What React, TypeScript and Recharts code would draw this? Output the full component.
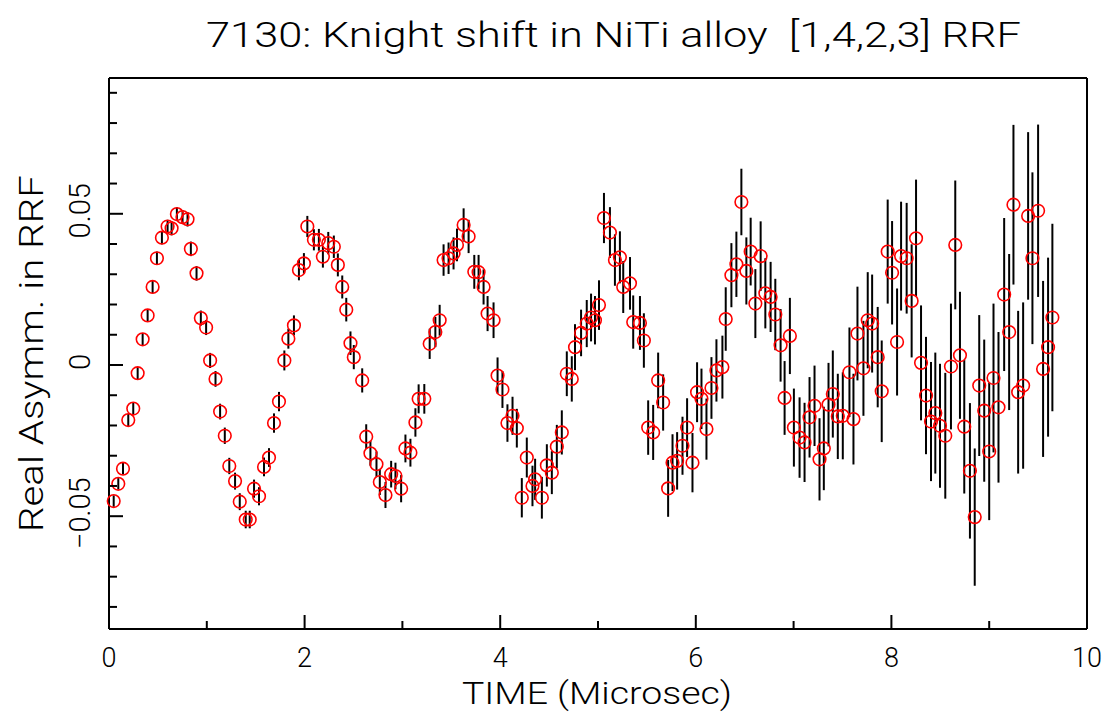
import React from 'react';
import { ScatterChart, Scatter, XAxis, YAxis, ErrorBar } from 'recharts';

const W = 1108;
const H = 713;
const FONT = "Roboto, 'DejaVu Sans', sans-serif";

const TITLE = '7130: Knight shift in NiTi alloy  [1,4,2,3] RRF';
const X_LABEL = 'TIME (Microsec)';
const Y_LABEL = 'Real Asymm. in RRF';

const X_TICKS = [0, 1, 2, 3, 4, 5, 6, 7, 8, 9, 10];
const X_MAJOR = [0, 2, 4, 6, 8, 10];
const Y_TICKS = [-0.08, -0.07, -0.06, -0.05, -0.04, -0.03, -0.02, -0.01, 0, 0.01, 0.02, 0.03, 0.04, 0.05, 0.06, 0.07, 0.08, 0.09];
const Y_MAJOR = [-0.05, 0, 0.05];
const Y_MAJOR_TEXT = ['\u22120.05', '0', '0.05'];

const TIMES = [
  0.048, 0.095, 0.143, 0.197, 0.248, 0.293, 0.344, 0.395, 0.446, 0.490,
  0.541, 0.599, 0.640, 0.694, 0.752, 0.803, 0.837, 0.895, 0.939, 0.993,
  1.034, 1.089, 1.136, 1.184, 1.230, 1.289, 1.337, 1.398, 1.439, 1.483,
  1.534, 1.585, 1.636, 1.687, 1.738, 1.793, 1.834, 1.891, 1.942, 1.993,
  2.028, 2.095, 2.146, 2.187, 2.242, 2.299, 2.340, 2.385, 2.426, 2.469,
  2.503, 2.589, 2.630, 2.673, 2.735, 2.769, 2.827, 2.885, 2.929, 2.987,
  3.031, 3.082, 3.133, 3.166, 3.224, 3.279, 3.337, 3.381, 3.421, 3.472,
  3.523, 3.558, 3.626, 3.677, 3.735, 3.779, 3.830, 3.871, 3.932, 3.973,
  4.023, 4.074, 4.126, 4.170, 4.221, 4.272, 4.330, 4.357, 4.426, 4.477,
  4.528, 4.579, 4.630, 4.681, 4.732, 4.765, 4.827, 4.885, 4.929, 4.969,
  5.010, 5.061, 5.122, 5.173, 5.224, 5.258, 5.327, 5.360, 5.429, 5.469,
  5.513, 5.564, 5.615, 5.666, 5.717, 5.762, 5.809, 5.864, 5.911, 5.966,
  6.013, 6.058, 6.109, 6.160, 6.211, 6.272, 6.306, 6.364, 6.415, 6.466,
  6.517, 6.561, 6.609, 6.663, 6.711, 6.765, 6.813, 6.867, 6.908, 6.962,
  7.003, 7.061, 7.112, 7.163, 7.214, 7.265, 7.309, 7.357, 7.401, 7.452,
  7.503, 7.571, 7.612, 7.653, 7.714, 7.758, 7.803, 7.860, 7.901, 7.962,
  8.007, 8.058, 8.099, 8.156, 8.207, 8.252, 8.303, 8.354, 8.405, 8.449,
  8.497, 8.551, 8.609, 8.653, 8.701, 8.745, 8.803, 8.852, 8.898, 8.949,
  9.000, 9.044, 9.095, 9.153, 9.204, 9.248, 9.296, 9.347, 9.398, 9.442,
  9.500, 9.551, 9.602, 9.646,
];

const ASYM = [
  -0.0450, -0.0393, -0.0343, -0.0182, -0.0144, -0.0027, 0.0085, 0.0164, 0.0258, 0.0353,
  0.0421, 0.0458, 0.0452, 0.0499, 0.0489, 0.0482, 0.0384, 0.0303, 0.0155, 0.0124,
  0.0015, -0.0046, -0.0154, -0.0234, -0.0334, -0.0384, -0.0452, -0.0511, -0.0511, -0.0409,
  -0.0434, -0.0337, -0.0306, -0.0192, -0.0121, 0.0015, 0.0087, 0.0131, 0.0314, 0.0336,
  0.0458, 0.0414, 0.0414, 0.0358, 0.0403, 0.0391, 0.0331, 0.0258, 0.0183, 0.0072,
  0.0026, -0.0051, -0.0237, -0.0292, -0.0328, -0.0387, -0.0430, -0.0361, -0.0367, -0.0409,
  -0.0276, -0.0290, -0.0190, -0.0112, -0.0112, 0.0070, 0.0109, 0.0148, 0.0347, 0.0353,
  0.0369, 0.0397, 0.0463, 0.0425, 0.0308, 0.0307, 0.0258, 0.0170, 0.0148, -0.0035,
  -0.0081, -0.0192, -0.0168, -0.0209, -0.0439, -0.0306, -0.0400, -0.0378, -0.0439, -0.0332,
  -0.0356, -0.0270, -0.0223, -0.0029, -0.0046, 0.0059, 0.0106, 0.0137, 0.0157, 0.0148,
  0.0198, 0.0486, 0.0438, 0.0347, 0.0356, 0.0258, 0.0270, 0.0142, 0.0139, 0.0081,
  -0.0207, -0.0223, -0.0051, -0.0124, -0.0408, -0.0323, -0.0317, -0.0267, -0.0207, -0.0323,
  -0.0090, -0.0112, -0.0212, -0.0076, -0.0018, -0.0007, 0.0152, 0.0297, 0.0333, 0.0539,
  0.0311, 0.0375, 0.0203, 0.0360, 0.0237, 0.0225, 0.0167, 0.0065, -0.0109, 0.0096,
  -0.0207, -0.0240, -0.0256, -0.0173, -0.0135, -0.0312, -0.0276, -0.0131, -0.0096, -0.0170,
  -0.0168, -0.0024, -0.0179, 0.0104, -0.0011, 0.0148, 0.0137, 0.0026, -0.0087, 0.0375,
  0.0305, 0.0076, 0.0360, 0.0353, 0.0212, 0.0419, 0.0007, -0.0101, -0.0187, -0.0159,
  -0.0201, -0.0234, -0.0005, 0.0397, 0.0032, -0.0204, -0.0350, -0.0503, -0.0068, -0.0151,
  -0.0286, -0.0043, -0.0140, 0.0233, 0.0109, 0.0530, -0.0090, -0.0068, 0.0493, 0.0353,
  0.0510, -0.0013, 0.0059, 0.0157,
];

const ERRS = [
  0.0019, 0.0019, 0.0019, 0.0020, 0.0020, 0.0020, 0.0021, 0.0021, 0.0021, 0.0022,
  0.0022, 0.0022, 0.0023, 0.0023, 0.0023, 0.0024, 0.0024, 0.0024, 0.0025, 0.0025,
  0.0025, 0.0026, 0.0026, 0.0027, 0.0027, 0.0028, 0.0028, 0.0029, 0.0029, 0.0030,
  0.0030, 0.0031, 0.0031, 0.0032, 0.0032, 0.0033, 0.0033, 0.0033, 0.0034, 0.0034,
  0.0035, 0.0035, 0.0036, 0.0036, 0.0037, 0.0037, 0.0038, 0.0038, 0.0039, 0.0039,
  0.0040, 0.0040, 0.0041, 0.0041, 0.0042, 0.0043, 0.0043, 0.0044, 0.0044, 0.0045,
  0.0046, 0.0046, 0.0047, 0.0048, 0.0049, 0.0050, 0.0050, 0.0051, 0.0052, 0.0052,
  0.0053, 0.0054, 0.0055, 0.0055, 0.0056, 0.0057, 0.0058, 0.0058, 0.0059, 0.0060,
  0.0061, 0.0062, 0.0063, 0.0064, 0.0065, 0.0066, 0.0067, 0.0068, 0.0069, 0.0070,
  0.0071, 0.0072, 0.0073, 0.0074, 0.0075, 0.0076, 0.0077, 0.0078, 0.0079, 0.0080,
  0.0082, 0.0083, 0.0084, 0.0085, 0.0086, 0.0086, 0.0087, 0.0088, 0.0089, 0.0090,
  0.0090, 0.0091, 0.0092, 0.0093, 0.0094, 0.0094, 0.0095, 0.0096, 0.0097, 0.0098,
  0.0099, 0.0100, 0.0101, 0.0102, 0.0103, 0.0104, 0.0105, 0.0106, 0.0108, 0.0110,
  0.0111, 0.0112, 0.0114, 0.0115, 0.0116, 0.0116, 0.0118, 0.0120, 0.0122, 0.0126,
  0.0129, 0.0133, 0.0131, 0.0133, 0.0133, 0.0136, 0.0138, 0.0138, 0.0144, 0.0141,
  0.0144, 0.0148, 0.0150, 0.0155, 0.0157, 0.0159, 0.0162, 0.0166, 0.0168, 0.0172,
  0.0171, 0.0177, 0.0180, 0.0183, 0.0187, 0.0194, 0.0190, 0.0194, 0.0197, 0.0200,
  0.0205, 0.0208, 0.0208, 0.0213, 0.0210, 0.0221, 0.0224, 0.0227, 0.0233, 0.0235,
  0.0227, 0.0246, 0.0249, 0.0253, 0.0258, 0.0264, 0.0269, 0.0275, 0.0277, 0.0284,
  0.0285, 0.0291, 0.0296, 0.0310,
];

const data = TIMES.map((t, i) => ({ t, a: ASYM[i], e: ERRS[i] }));

const majorIndex = (v: number, list: number[]) => list.findIndex((m) => Math.abs(m - v) < 1e-9);

const MAJOR_LEN = 14;
const MINOR_LEN = 8;
const TICK_W = 2;

const BottomTick = (p: any) => {
  const { x, y, payload } = p;
  const mi = majorIndex(payload.value, X_MAJOR);
  const major = mi >= 0;
  return (
    <g>
      <line x1={x} x2={x} y1={y} y2={y - (major ? MAJOR_LEN : MINOR_LEN)} stroke="#000" strokeWidth={TICK_W} />
      {major && (
        <text x={x} y={y + 38} textAnchor="middle" fontSize={27} fontFamily={FONT} fontWeight={300} fill="#000">
          {String(payload.value)}
        </text>
      )}
    </g>
  );
};

const TopTick = (p: any) => {
  const { x, y, payload } = p;
  const major = majorIndex(payload.value, X_MAJOR) >= 0;
  return <line x1={x} x2={x} y1={y} y2={y + (major ? MAJOR_LEN : MINOR_LEN)} stroke="#000" strokeWidth={TICK_W} />;
};

const LeftTick = (p: any) => {
  const { x, y, payload } = p;
  const mi = majorIndex(payload.value, Y_MAJOR);
  const major = mi >= 0;
  return (
    <g>
      <line x1={x} x2={x + (major ? MAJOR_LEN : MINOR_LEN)} y1={y} y2={y} stroke="#000" strokeWidth={TICK_W} />
      {major && (
        <text
          transform={`translate(${x - 19},${y - 3}) rotate(-90)`}
          x={0}
          y={0}
          textAnchor="middle"
          fontSize={29}
          fontFamily={FONT}
          fontWeight={300}
          fill="#000"
        >
          {Y_MAJOR_TEXT[mi]}
        </text>
      )}
    </g>
  );
};

const RightTick = (p: any) => {
  const { x, y, payload } = p;
  const major = majorIndex(payload.value, Y_MAJOR) >= 0;
  return <line x1={x} x2={x - (major ? MAJOR_LEN : MINOR_LEN)} y1={y} y2={y} stroke="#000" strokeWidth={TICK_W} />;
};

const Marker = (p: any) => {
  const { cx, cy } = p;
  if (cx == null || cy == null) return null;
  return <circle cx={cx} cy={cy} r={6.3} fill="none" stroke="#ff0000" strokeWidth={1.6} />;
};

const X_DOMAIN: [number, number] = [0, 10];
const Y_DOMAIN: [number, number] = [-0.0873, 0.0949];
const AXIS_LINE = { stroke: '#000', strokeWidth: 2 };

export default function App() {
  return (
    <div style={{ position: 'absolute', left: 0, top: 0, width: W, height: H, background: '#fff' }}>
      <ScatterChart width={W} height={H} margin={{ top: 77, right: 20, bottom: 83, left: 108 }}>
        <XAxis
          xAxisId="b"
          dataKey="t"
          type="number"
          orientation="bottom"
          domain={X_DOMAIN}
          ticks={X_TICKS}
          interval={0}
          height={1}
          tickSize={0}
          tickMargin={0}
          tickLine={false}
          axisLine={AXIS_LINE}
          tick={BottomTick}
        />
        <XAxis
          xAxisId="top"
          dataKey="t"
          type="number"
          orientation="top"
          domain={X_DOMAIN}
          ticks={X_TICKS}
          interval={0}
          height={1}
          tickSize={0}
          tickMargin={0}
          tickLine={false}
          axisLine={AXIS_LINE}
          tick={TopTick}
        />
        <YAxis
          yAxisId="l"
          dataKey="a"
          type="number"
          orientation="left"
          domain={Y_DOMAIN}
          ticks={Y_TICKS}
          interval={0}
          width={1}
          tickSize={0}
          tickMargin={0}
          tickLine={false}
          axisLine={AXIS_LINE}
          tick={LeftTick}
        />
        <YAxis
          yAxisId="r"
          dataKey="a"
          type="number"
          orientation="right"
          domain={Y_DOMAIN}
          ticks={Y_TICKS}
          interval={0}
          width={1}
          tickSize={0}
          tickMargin={0}
          tickLine={false}
          axisLine={AXIS_LINE}
          tick={RightTick}
        />
        <Scatter data={data} xAxisId="b" yAxisId="l" dataKey="a" shape={Marker} isAnimationActive={false}>
          <ErrorBar dataKey="e" direction="y" width={0} stroke="#000" strokeWidth={2} isAnimationActive={false} />
        </Scatter>
      </ScatterChart>
      <svg
        width={W}
        height={H}
        style={{ position: 'absolute', left: 0, top: 0, pointerEvents: 'none' }}
      >
        <text
          x={206}
          y={47}
          textLength={815}
          lengthAdjust="spacingAndGlyphs"
          fontSize={35}
          fontFamily={FONT}
          fontWeight={300}
          fill="#000"
          style={{ whiteSpace: 'pre' }}
        >
          {TITLE}
        </text>
        <text
          x={462}
          y={704}
          textLength={270}
          lengthAdjust="spacingAndGlyphs"
          fontSize={32}
          fontFamily={FONT}
          fontWeight={300}
          fill="#000"
          style={{ whiteSpace: 'pre' }}
        >
          {X_LABEL}
        </text>
        <text
          transform="translate(43,532) rotate(-90)"
          x={0}
          y={0}
          textLength={357}
          lengthAdjust="spacingAndGlyphs"
          fontSize={33}
          fontFamily={FONT}
          fontWeight={300}
          fill="#000"
          style={{ whiteSpace: 'pre' }}
        >
          {Y_LABEL}
        </text>
      </svg>
    </div>
  );
}
